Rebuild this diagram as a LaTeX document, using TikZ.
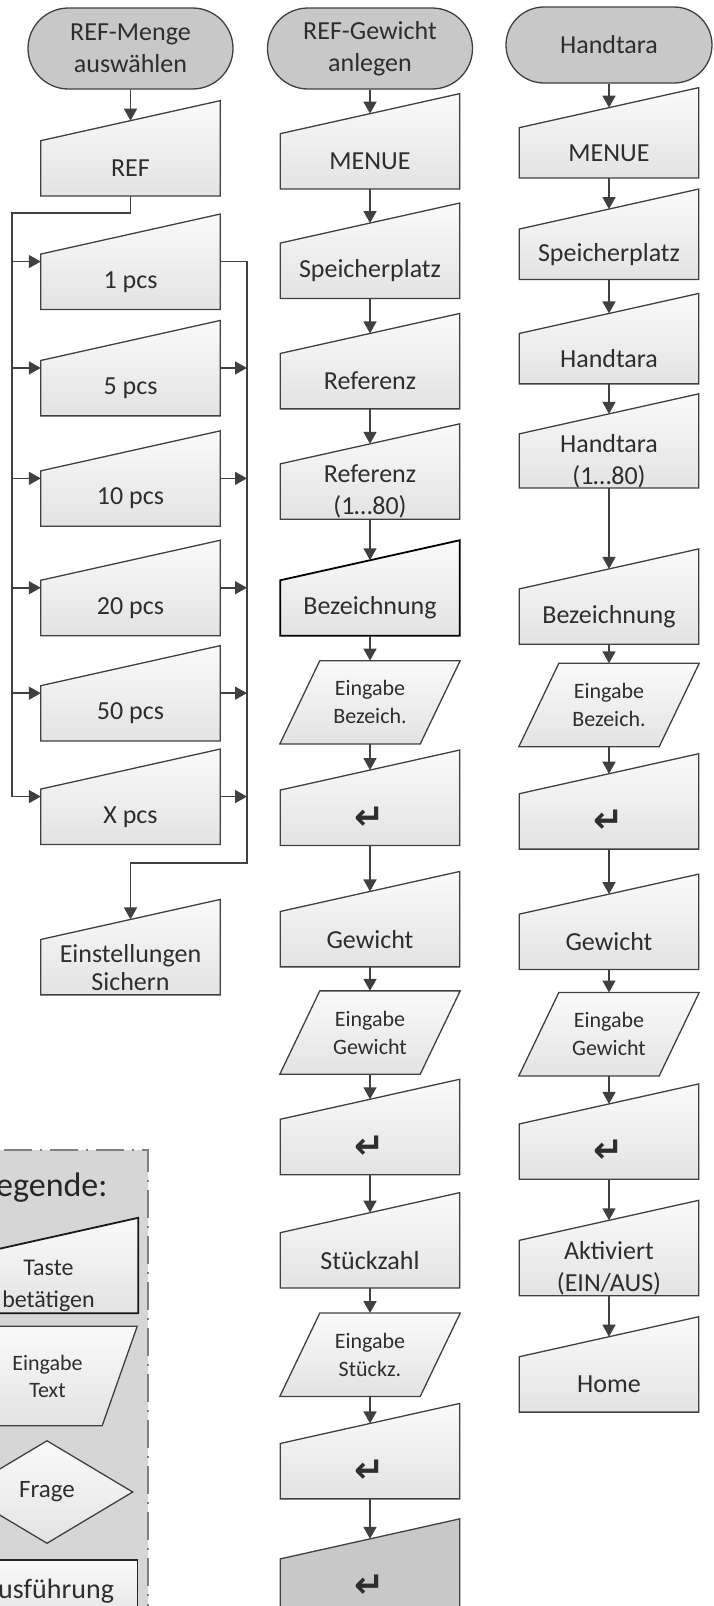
\documentclass[tikz,border=0pt]{standalone}
\usepackage{fontspec}
\setmainfont{Carlito}
\newfontfamily\symfont{DejaVu Sans}
\usetikzlibrary{arrows.meta,positioning,shapes.geometric,shapes.misc,backgrounds}

\definecolor{linie}{HTML}{404040}
\definecolor{schrift}{HTML}{2E2E2E}
\definecolor{startfill}{HTML}{C8C8C8}
\definecolor{legfill}{HTML}{D6D6D6}
\definecolor{legrand}{HTML}{808080}

\tikzset{
  start/.style={rounded rectangle, draw=linie, line width=1.3pt, fill=startfill,
    minimum width=205pt, minimum height=81pt, inner sep=0pt, align=center},
  taste/.style={minimum width=179pt, minimum height=55pt, inner sep=0pt, align=center},
  eingabe/.style={minimum width=180pt, minimum height=83pt, inner sep=0pt, align=center,
    font=\fontsize{22}{28}\selectfont},
  tasterand/.style={draw=linie, line width=1.3pt, top color=black!2, bottom color=black!11},
  pfeil/.style={->, draw=linie, line width=1.6pt},
}
\newcommand{\entersym}{{\symfont\bfseries\fontsize{36}{36}\selectfont ↵}}

\begin{document}
\begin{tikzpicture}[x=1pt, y=-1pt, >={Triangle[length=12pt,width=13pt]},
  font=\fontsize{26}{32}\selectfont, text=schrift]
\useasboundingbox (0,0) rectangle (714,1606);

% REF-Menge
\node[start] (s1) at (130.5,48.5) {REF-Menge\\auswählen};
\node[taste] (ref)   [below=51pt of s1]  {REF};
\node[taste] (p1)    [below=58pt of ref] {1 pcs};
\node[taste] (p5)    [below=51pt of p1]  {5 pcs};
\node[taste] (p10)   [below=55pt of p5]  {10 pcs};
\node[taste] (p20)   [below=54pt of p10] {20 pcs};
\node[taste] (p50)   [below=50pt of p20] {50 pcs};
\node[taste] (px)    [below=48pt of p50] {X pcs};
\node[taste, font=\fontsize{26}{28}\selectfont] (einst) [below=95pt of px] {Einstellungen\\Sichern};

% REF-Gewicht
\node[start] (s2) at (370,48.5) {REF-Gewicht\\anlegen};
\node[taste]   (menue2)  [below=44pt of s2]      {MENUE};
\node[taste]   (speich2) [below=54pt of menue2]  {Speicherplatz};
\node[taste]   (refz)    [below=55pt of speich2] {Referenz};
\node[taste]   (refn)    [below=55pt of refz]    {Referenz\\(1…80)};
\node[taste]   (bez2)    [below=61pt of refn]    {Bezeichnung};
\node[eingabe] (ein2a)   [below=25pt of bez2]    {Eingabe\\Bezeich.};
\node[taste]   (ent2a)   [below=46pt of ein2a]   {\entersym};
\node[taste]   (gew2)    [below=66pt of ent2a]   {Gewicht};
\node[eingabe] (ein2b)   [below=24pt of gew2]    {Eingabe\\Gewicht};
\node[taste]   (ent2b)   [below=45pt of ein2b]   {\entersym};
\node[taste]   (stk)     [below=58pt of ent2b]   {Stückzahl};
\node[eingabe] (ein2c)   [below=25pt of stk]     {Eingabe\\Stückz.};
\node[taste]   (ent2c)   [below=47pt of ein2c]   {\entersym};
\node[taste]   (ent2d)   [below=60pt of ent2c]   {\entersym};

% Handtara
\node[start, minimum width=206pt, minimum height=76pt] (s3) at (609,45) {Handtara};
\node[taste, minimum height=50pt] (menue3)  [below=44pt of s3]      {MENUE};
\node[taste, minimum height=50pt] (speich3) [below=51pt of menue3]  {Speicherplatz};
\node[taste, minimum height=50pt] (hand)    [below=54pt of speich3] {Handtara};
\node[taste, minimum height=50pt] (handn)   [below=50pt of hand]    {Handtara\\(1…80)};
\node[taste]   (bez3)  [below=101pt of handn] {Bezeichnung};
\node[eingabe] (ein3a) [below=19pt of bez3]   {Eingabe\\Bezeich.};
\node[taste]   (ent3a) [below=47pt of ein3a]  {\entersym};
\node[taste]   (gew3)  [below=65pt of ent3a]  {Gewicht};
\node[eingabe] (ein3b) [below=23pt of gew3]   {Eingabe\\Gewicht};
\node[taste]   (ent3b) [below=48pt of ein3b]  {\entersym};
\node[taste]   (akt)   [below=61pt of ent3b]  {Aktiviert\\(EIN/AUS)};
\node[taste]   (home)  [below=61pt of akt]    {Home};

% Legende
\node[anchor=east, font=\fontsize{34}{38}\selectfont, text=black!85] (leg) at (111,1188) {Legende:};
\node[taste, font=\fontsize{24}{32}\selectfont] (lt) at (48.5,1285.5) {Taste\\betätigen};
\node[eingabe, minimum height=99pt, minimum width=179pt, font=\fontsize{22}{27}\selectfont]
  (le) at (47.5,1376) {Eingabe\\Text};
\node[diamond, draw=linie, line width=1.3pt, top color=black!2, bottom color=black!11,
  minimum width=172pt, minimum height=103pt, inner sep=0pt, font=\fontsize{25}{30}\selectfont]
  (lf) at (47,1492) {Frage};
\node[draw=black!85, line width=1.5pt, top color=black!2, bottom color=black!11,
  minimum width=179pt, minimum height=62pt, font=\fontsize{28}{32}\selectfont]
  (la) at (48,1591) {Ausführung};

% shapes behind the texts
\begin{scope}[on background layer]
  \draw[legrand, fill=legfill, line width=2pt, dash pattern=on 28pt off 8pt on 2pt off 8pt]
    (-200,1150) rectangle (148,1700);
  \foreach \n in {ref,p1,p5,p10,p20,p50,px,einst,menue2,speich2,refz,refn,ent2a,gew2,
      ent2b,stk,ent2c,menue3,speich3,hand,handn,bez3,ent3a,gew3,ent3b,akt,home}
    \draw[tasterand] (\n.south west) -- (\n.south east) -- ([yshift=40pt]\n.north east)
      -- (\n.north west) -- cycle;
  \draw[tasterand, draw=black!90, line width=1.8pt] (lt.south west) -- (lt.south east)
    -- ([yshift=40pt]lt.north east) -- (lt.north west) -- cycle;
  \draw[tasterand, draw=black, line width=1.8pt] (bez2.south west) -- (bez2.south east)
    -- ([yshift=40pt]bez2.north east) -- (bez2.north west) -- cycle;
  \draw[draw=linie, line width=1.3pt, fill=startfill] (ent2d.south west) -- (ent2d.south east)
    -- ([yshift=40pt]ent2d.north east) -- (ent2d.north west) -- cycle;
  \foreach \n/\s in {ein2a/40,ein2b/40,ein2c/40,ein3a/40,ein3b/40,le/35}
    \draw[tasterand] (\n.south west) -- ([xshift=-\s pt]\n.south east) -- (\n.north east)
      -- ([xshift=\s pt]\n.north west) -- cycle;
\end{scope}

% REF-Menge: Verteiler links und rechts
\foreach \n in {p1,p5,p10,p20,p50,px} {
  \coordinate (\n-in)  at ([yshift=-7.5pt]\n.north west);
  \coordinate (\n-out) at ([yshift=-7.5pt]\n.north east);
}
\coordinate (busl) at (12,213);
\coordinate (busr) at (247,863);

\draw[pfeil] (s1.south) -- ([yshift=20pt]ref.north);
\draw[pfeil] (ref.south) |- (busl) |- (px-in);
\foreach \n in {p1,p5,p10,p20,p50}
  \draw[pfeil] (busl |- \n-in) -- (\n-in);
\draw[pfeil] (p1-out) -| (busr) -| ([yshift=20pt]einst.north);
\foreach \n in {p5,p10,p20,p50,px}
  \draw[pfeil] (\n-out) -- (busr |- \n-out);

% Ketten
\foreach \a/\b in {s2/menue2,menue2/speich2,speich2/refz,refz/refn,refn/bez2,
    ein2a/ent2a,ent2a/gew2,ein2b/ent2b,ent2b/stk,ein2c/ent2c,ent2c/ent2d,
    s3/menue3,menue3/speich3,speich3/hand,hand/handn,handn/bez3,
    ein3a/ent3a,ent3a/gew3,ein3b/ent3b,ent3b/akt,akt/home}
  \draw[pfeil] (\a.south) -- ([yshift=20pt]\b.north);
\foreach \a/\b in {bez2/ein2a,gew2/ein2b,stk/ein2c,bez3/ein3a,gew3/ein3b}
  \draw[pfeil] (\a.south) -- (\b.north);
\end{tikzpicture}
\end{document}
